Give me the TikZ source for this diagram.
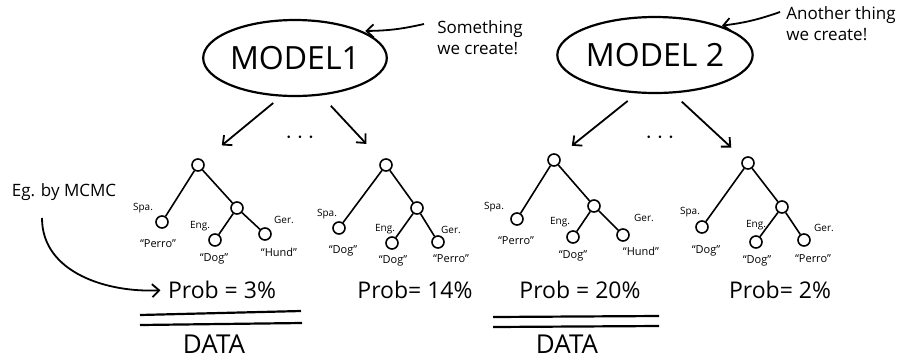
\documentclass[tikz,border=0pt]{standalone}
\usepackage{fontspec}
\setmainfont{Open Sans}
\usepackage{tikz}
\usetikzlibrary{arrows.meta,shapes.geometric}

\tikzset{
    model/.style={draw, ellipse, line width=2.2pt, minimum width=144pt, minimum height=76pt,
        inner sep=0pt, font=\fontsize{32}{32}\selectfont},
    vert/.style={draw, circle, line width=1.6pt, minimum size=12pt, inner sep=0pt},
    branch/.style={line width=1.6pt},
    lang/.style={font=\fontsize{10}{10}\selectfont},
    word/.style={font=\fontsize{11}{11}\selectfont},
    prob/.style={font=\fontsize{23}{23}\selectfont},
    note/.style={font=\fontsize{17}{21}\selectfont, align=left},
    hand/.style={line width=1.8pt, -{Straight Barb[length=7pt,width=13pt]}},
    rule/.style={line width=2.2pt},
}

\begin{document}
\begin{tikzpicture}[x=1pt,y=-1pt]
    \useasboundingbox (0,0) rectangle (899,360);

    % the two models
    \node[model] (m1) at (295,58) {MODEL1};
    \node[model] (m2) at (655,55) {MODEL 2};
    \node[note] (n1) at (480,38) {Something\\we create!};
    \node[note] (n2) at (841,24) {Another thing\\we create!};
    \coordinate (n1tip) at (424,24);
    \coordinate (n2tip) at (780,12);
    \draw[hand] (n1tip) to[bend left=6] ([shift={(8pt,-2pt)}]m1.25);
    \draw[hand] (n2tip) to[bend left=6] ([shift={(8pt,-2pt)}]m2.28);

    % tree 1
    \node[vert] (r1) at (198,165) {};
    \node[vert] (a1) at (162,222) {};
    \node[vert] (i1) at (237,208) {};
    \node[vert] (b1) at (215,240) {};
    \node[vert] (c1) at (265,234) {};
    \draw[branch] (r1) -- (a1);
    \draw[branch] (r1) -- (i1);
    \draw[branch] (i1) -- (b1);
    \draw[branch] (i1) -- (c1);
    \node[lang] at (143,208) {Spa.};
    \node[lang] at (200,226) {Eng.};
    \node[lang] at (284,220) {Ger.};
    \node[word] at (158,244) {``Perro''};
    \node[word] at (214,259) {``Dog''};
    \node[word] at (279,252) {``Hund''};

    % tree 2
    \node[vert] (r2) at (386,165) {};
    \node[vert] (a2) at (339,228) {};
    \node[vert] (i2) at (417,208) {};
    \node[vert] (b2) at (392,243) {};
    \node[vert] (c2) at (438,242) {};
    \draw[branch] (r2) -- (a2);
    \draw[branch] (r2) -- (i2);
    \draw[branch] (i2) -- (b2);
    \draw[branch] (i2) -- (c2);
    \node[lang] at (327,214) {Spa.};
    \node[lang] at (385,229) {Eng.};
    \node[lang] at (451,230) {Ger.};
    \node[word] at (343,251) {``Dog''};
    \node[word] at (393,261) {``Dog''};
    \node[word] at (451,259) {``Perro''};

    % tree 3
    \node[vert] (r3) at (554,160) {};
    \node[vert] (a3) at (517,219) {};
    \node[vert] (i3) at (594,206) {};
    \node[vert] (b3) at (573,237) {};
    \node[vert] (c3) at (623,235) {};
    \draw[branch] (r3) -- (a3);
    \draw[branch] (r3) -- (i3);
    \draw[branch] (i3) -- (b3);
    \draw[branch] (i3) -- (c3);
    \node[lang] at (494,207) {Spa.};
    \node[lang] at (560,222) {Eng.};
    \node[lang] at (644,218) {Ger.};
    \node[word] at (516,241) {``Perro''};
    \node[word] at (573,256) {``Dog''};
    \node[word] at (641,251) {``Hund''};

    % tree 4
    \node[vert] (r4) at (748,163) {};
    \node[vert] (a4) at (702,227) {};
    \node[vert] (i4) at (782,207) {};
    \node[vert] (b4) at (756,242) {};
    \node[vert] (c4) at (804,240) {};
    \draw[branch] (r4) -- (a4);
    \draw[branch] (r4) -- (i4);
    \draw[branch] (i4) -- (b4);
    \draw[branch] (i4) -- (c4);
    \node[lang] at (690,212) {Spa.};
    \node[lang] at (756,225) {Eng.};
    \node[lang] at (824,228) {Ger.};
    \node[word] at (706,251) {``Dog''};
    \node[word] at (757,261) {``Dog''};
    \node[word] at (813,259) {``Perro''};

    % models pick trees
    \draw[hand, shorten <=10pt, shorten >=24pt] (m1.250) -- (r1);
    \draw[hand, shorten <=14pt, shorten >=22pt] (m1.305) -- (r2);
    \draw[hand, shorten <=12pt, shorten >=16pt] (m2.245) -- (r3);
    \draw[hand, shorten <=12pt, shorten >=16pt] (m2.295) -- (r4);
    \node[prob] (d1) at (300,138) {$\cdots$};
    \node[prob] (d2) at (660,138) {$\cdots$};

    % probabilities
    \node[prob] (p1) at (222,290) {Prob = 3\%};
    \node[prob] (p2) at (415,290) {Prob= 14\%};
    \node[prob] (p3) at (580,290) {Prob = 20\%};
    \node[prob] (p4) at (780,290) {Prob= 2\%};

    \node[note] (mcmc) at (64,192) {Eg. by MCMC};
    \coordinate (mcmcfoot) at (42,218);
    \draw[hand, shorten >=4pt] (mcmcfoot) to[out=-90,in=183] (p1.west);

    % data
    \draw[rule] (140,315) -- (301,311);
    \draw[rule] (140,325) -- (302,323);
    \node[prob, font=\fontsize{26}{26}\selectfont, anchor=base] (data1) at (214,353) {DATA};
    \draw[rule] (493,317) -- (659,316);
    \draw[rule] (493,327) -- (659,326);
    \node[prob, font=\fontsize{26}{26}\selectfont, anchor=base] (data2) at (567,353) {DATA};
\end{tikzpicture}
\end{document}
